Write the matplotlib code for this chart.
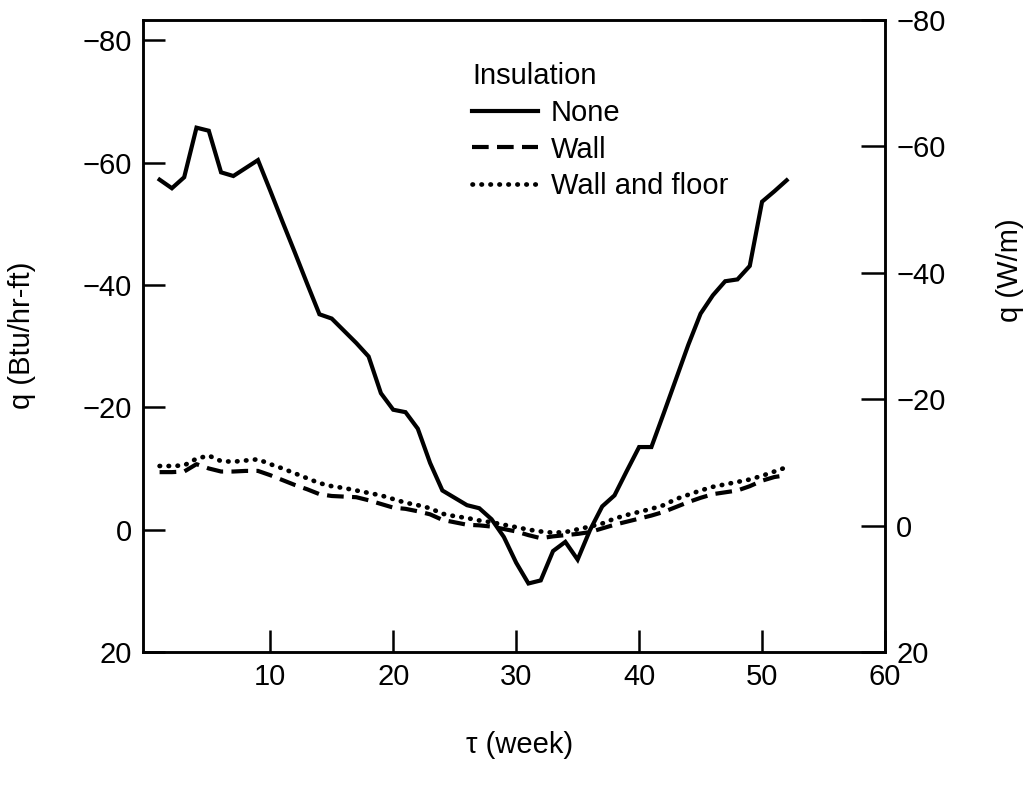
import matplotlib
matplotlib.use("Agg")
import matplotlib.pyplot as plt
import numpy as np

plt.rcParams["font.family"] = ["Liberation Sans", "DejaVu Sans"]
plt.rcParams["font.size"] = 21

# weekly heat flux, Btu/hr-ft (negative = heat loss)
weeks = np.arange(1, 53)
q_none = [-57.2, -55.8, -57.6, -65.7, -65.2, -58.4, -57.8, -59.1, -60.4, -55.4,
          -50.3, -45.3, -40.2, -35.2, -34.5, -32.5, -30.5, -28.3, -22.3, -19.6,
          -19.2, -16.5, -10.9, -6.4, -5.2, -4.0, -3.5, -1.7, 1.2, 5.4,
          8.8, 8.3, 3.5, 2.0, 4.9, 0.1, -3.8, -5.6, -9.6, -13.5,
          -13.5, -19.0, -24.6, -30.2, -35.3, -38.3, -40.6, -40.9, -43.1, -53.6,
          -55.3, -57.1]
q_wall = [-9.4, -9.4, -9.5, -10.7, -10.0, -9.5, -9.5, -9.6, -9.6, -8.9,
          -8.1, -7.3, -6.6, -5.8, -5.5, -5.4, -5.3, -4.8, -4.2, -3.6,
          -3.4, -3.0, -2.5, -1.6, -1.2, -0.8, -0.7, -0.5, -0.1, 0.3,
          0.9, 1.4, 1.1, 0.9, 0.7, 0.4, -0.2, -0.8, -1.3, -1.8,
          -2.3, -2.9, -3.7, -4.5, -5.2, -5.8, -6.1, -6.4, -7.1, -8.0,
          -8.6, -8.9]
q_wall_floor = [-10.4, -10.4, -10.5, -11.6, -12.1, -11.2, -11.1, -11.3, -11.5, -10.7,
                -10.0, -9.2, -8.4, -7.6, -7.1, -6.8, -6.4, -6.0, -5.6, -5.0,
                -4.4, -4.0, -3.5, -2.6, -2.2, -1.9, -1.5, -1.2, -0.8, -0.4,
                0.0, 0.3, 0.5, 0.4, -0.05, -0.5, -1.0, -1.8, -2.4, -2.9,
                -3.4, -4.0, -5.0, -5.7, -6.4, -7.0, -7.4, -7.8, -8.2, -8.8,
                -9.5, -10.2]

series_labels = ["None", "Wall", "Wall and floor"]
x_ticks = [10, 20, 30, 40, 50, 60]
y_ticks = [-80, -60, -40, -20, 0, 20]

W, H = 1035, 785
fig = plt.figure(figsize=(W / 100, H / 100), dpi=100)
ax = fig.add_axes([143 / W, 1 - 652 / H, 742 / W, 632 / H])

ax.plot(weeks, q_none, color="black", lw=3, solid_joinstyle="miter",
        label=series_labels[0])
ax.plot(weeks, q_wall, color="black", lw=3, linestyle=(0, (4, 2)),
        label=series_labels[1])
ax.plot(weeks, q_wall_floor, color="black", lw=3.4, linestyle=(0, (0.1, 1.8)),
        dash_capstyle="round", label=series_labels[2])

ax.set_xlim(-0.35, 60)
ax.set_ylim(20, -83.3)
ax.set_xticks(x_ticks)
ax.set_yticks(y_ticks)

# second scale in W/m on the right
ax2 = ax.twinx()
ax2.set_ylim(20, -80)
ax2.set_yticks(y_ticks)

for a in (ax, ax2):
    for s in a.spines.values():
        s.set_linewidth(1.8)
ax.tick_params(axis="both", direction="in", length=16, width=1.8, pad=8,
               labelsize=21)
ax.tick_params(axis="x", pad=8)
ax2.tick_params(axis="y", direction="in", length=17, width=1.8, pad=8,
                labelsize=21)

leg = ax.legend(loc="upper left", bbox_to_anchor=(472 / W, 1 - 62 / H),
                bbox_transform=fig.transFigure, frameon=False,
                title="Insulation", fontsize=21, title_fontsize=21,
                handlelength=2.25, handletextpad=0.45, labelspacing=0.3,
                borderpad=0, borderaxespad=0, alignment="left")

fig.text(22 / W, 1 - 335 / H, "q (Btu/hr-ft)", rotation=90,
         ha="center", va="center", fontsize=21)
fig.text(1010 / W, 1 - 270 / H, "q (W/m)", rotation=90,
         ha="center", va="center", fontsize=21)
fig.text(520 / W, 1 - 745 / H, "τ (week)", ha="center", va="center",
         fontsize=21)

fig.savefig("out.png", dpi=100)
